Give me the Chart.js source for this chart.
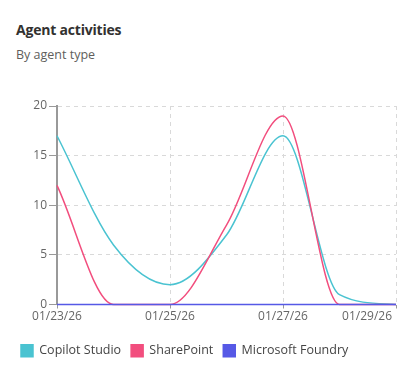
<!DOCTYPE html>
<html>
<head>
<meta charset="utf-8">
<script src="https://cdn.jsdelivr.net/npm/chart.js@4.4.1/dist/chart.umd.min.js"></script>
<style>
  body { margin: 0; background: #fff; font-family: 'Open Sans', sans-serif; }
  #wrap { position: relative; width: 409px; height: 373px; }
  .title { position: absolute; left: 16px; top: 20px; font-size: 14px; font-weight: bold; letter-spacing: -0.2px; color: #323130; }
  .subtitle { position: absolute; left: 16px; top: 46px; font-size: 12.5px; color: #605e5c; }
  canvas { position: absolute; left: 0; top: 0; }
</style>
</head>
<body>
<div id="wrap">
  <div class="title">Agent activities</div>
  <div class="subtitle">By agent type</div>
  <canvas id="agentChart" width="409" height="373"></canvas>
</div>
<script>
// Daily values
const dates = ['01/23/26', '01/24/26', '01/25/26', '01/26/26', '01/27/26', '01/28/26', '01/29/26'];
const copilotStudio = [17, 6, 2, 7, 17, 1, 0];
const sharePoint = [12, 0, 0, 8, 19, 0, 0];
const microsoftFoundry = [0, 0, 0, 0, 0, 0, 0];

const toPoints = values => values.map((v, i) => ({ x: i, y: v }));

// x tick labels drawn by hand so the last one can stay inside the card
const xLabels = {
    id: 'xLabels',
    afterDraw(chart) {
        const scale = chart.scales.x;
        const ctx = chart.ctx;
        ctx.save();
        ctx.font = '12px "Open Sans"';
        ctx.fillStyle = '#666';
        ctx.textBaseline = 'middle';
        scale.ticks.forEach(t => {
            const label = dates[t.value];
            const w = ctx.measureText(label).width;
            let x = scale.getPixelForValue(t.value) - w / 2;
            if (x + w > 392) x = 392 - w;
            ctx.fillText(label, x, 317);
        });
        ctx.restore();
    }
};

function line(label, values, color, order) {
    return {
        label: label,
        data: toPoints(values),
        borderColor: color,
        backgroundColor: color,
        borderWidth: 1.5,
        pointRadius: 0,
        cubicInterpolationMode: 'monotone',
        clip: 4,
        order: order
    };
}

new Chart(document.getElementById('agentChart').getContext('2d'), {
    type: 'line',
    data: {
        datasets: [
            line('Copilot Studio', copilotStudio, '#4AC3D1', 2),
            line('SharePoint', sharePoint, '#F24E7E', 1),
            line('Microsoft Foundry', microsoftFoundry, '#5659E6', 0)
        ]
    },
    options: {
        responsive: false,
        animation: false,
        layout: { padding: { top: 106, left: 11, right: 13, bottom: 6 } },
        scales: {
            x: {
                type: 'linear',
                min: 0,
                max: 6,
                ticks: { stepSize: 2, display: false },
                grid: { color: '#d9d9d9', tickColor: '#999', tickLength: 4, tickBorderDash: [] },
                border: { display: false, dash: [4, 4] },
                afterFit: s => { s.height = 30; s.paddingLeft = 0; s.paddingRight = 0; }
            },
            y: {
                min: 0,
                max: 20,
                ticks: { stepSize: 5, color: '#666', padding: 2, font: { size: 12, family: 'Open Sans' } },
                grid: { color: '#d9d9d9', tickColor: '#999', tickLength: 8, tickBorderDash: [] },
                border: { display: true, color: '#999', width: 2, dash: [4, 4] },
                afterFit: s => { s.width = 46; }
            }
        },
        plugins: {
            legend: {
                position: 'bottom',
                align: 'start',
                labels: {
                    boxWidth: 12,
                    boxHeight: 12,
                    padding: 10,
                    color: '#444',
                    font: { size: 12.5, family: 'Open Sans' },
                    sort: (a, b) => a.datasetIndex - b.datasetIndex
                }
            },
            tooltip: { enabled: false }
        }
    },
    plugins: [xLabels]
});
</script>
</body>
</html>
